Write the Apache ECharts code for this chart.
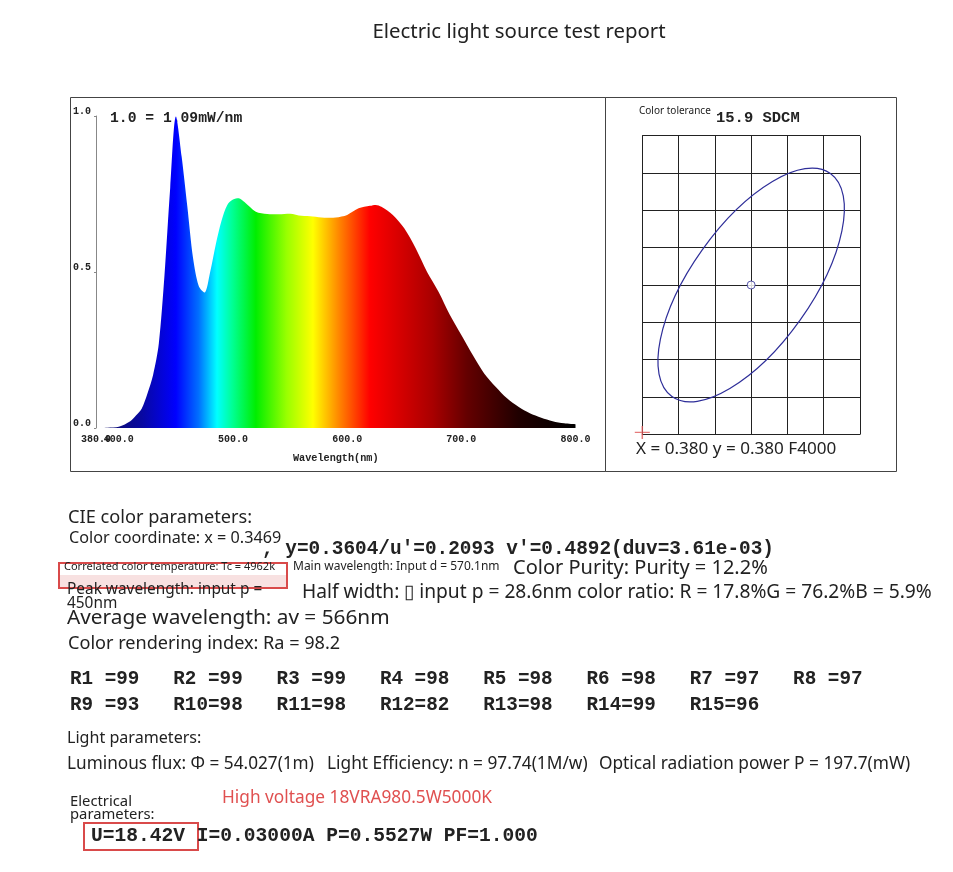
<!DOCTYPE html>
<html>
<head>
<meta charset="utf-8">
<title>Electric light source test report</title>
<script src="https://cdn.jsdelivr.net/npm/echarts@6.0.0/dist/echarts.min.js"></script>
<style>
  html, body { margin: 0; padding: 0; background: #fff; }
  #main { width: 953px; height: 872px; }
</style>
</head>
<body>
<div id="main"></div>
<script>
// spectrum (relative, 1.0 = 1.09mW/nm)
var wavelengths = [380, 390, 400, 410, 415, 420, 425, 430, 435, 440, 445, 450, 455, 460, 465, 470, 475, 480, 485, 490,
  495, 500, 505, 510, 520, 530, 540, 550, 560, 570, 580, 590, 600, 610, 620, 625, 630, 640, 650, 660,
  670, 680, 690, 700, 710, 720, 730, 740, 750, 760, 770, 780, 790, 800];
var intensity = [0, 0.001, 0.004, 0.022, 0.04, 0.062, 0.11, 0.17, 0.27, 0.49, 0.77, 0.998, 0.87, 0.71, 0.545, 0.455, 0.434, 0.50, 0.59, 0.665,
  0.715, 0.732, 0.736, 0.724, 0.693, 0.686, 0.685, 0.687, 0.68, 0.678, 0.674, 0.675, 0.683, 0.704, 0.712, 0.715, 0.709, 0.683, 0.64, 0.576,
  0.50, 0.437, 0.362, 0.298, 0.234, 0.175, 0.132, 0.095, 0.068, 0.047, 0.033, 0.022, 0.015, 0.012];
var xTicks = [400, 500, 600, 700, 800];
var xStartTick = [380];
var yTicks = [0, 0.5, 1.0];

// colour tolerance plot: ellipse [cx, cy, semi-major, semi-minor (in cell widths), angle deg]
var ellipse = [[3, 4, 3.77, 1.66, 54.6]];
var centerPoint = [[3, 4]];
var refCross = [[0, 0.05]];

// colour rendering indices
var rNames = ['R1', 'R2', 'R3', 'R4', 'R5', 'R6', 'R7', 'R8', 'R9', 'R10', 'R11', 'R12', 'R13', 'R14', 'R15'];
var rValues = [99, 99, 99, 98, 98, 98, 97, 97, 93, 98, 98, 82, 98, 99, 96];

// spectrum colour ramp
var rainbow = [
  [380, '#101060'], [420, '#0808a0'], [450, '#0000ff'], [470, '#0070ff'], [486, '#00ffff'],
  [500, '#00ff90'], [520, '#00ee00'], [547, '#99ff00'], [570, '#ffff00'], [594, '#ff8000'],
  [620, '#ff0000'], [675, '#a80000'], [705, '#640000'], [750, '#200000'], [800, '#000000']
];

var chart = echarts.init(document.getElementById('main'));

var specData = wavelengths.map(function (w, i) { return [w, intensity[i]]; });
var stops = rainbow.map(function (s) { return { offset: (s[0] - 380) / 420, color: s[1] }; });

var SANS = '"Noto Sans", sans-serif';
var MONO = '"Liberation Mono", "Courier New", monospace';

function txt(text, x, y, font, color, align) {
  return {
    type: 'text', silent: true,
    style: {
      text: text, x: x, y: y, font: font, fill: color || '#222',
      align: align || 'left', verticalAlign: 'middle',
      textAlign: align || 'left', textVerticalAlign: 'middle'
    }
  };
}

var graphics = [
  // panel frames
  { type: 'rect', shape: { x: 70.5, y: 97.5, width: 535, height: 374 }, style: { fill: 'none', stroke: '#444', lineWidth: 1 } },
  { type: 'rect', shape: { x: 605.5, y: 97.5, width: 291, height: 374 }, style: { fill: 'none', stroke: '#444', lineWidth: 1 } },
  // red marker boxes
  { type: 'rect', shape: { x: 60, y: 575, width: 226, height: 12 }, style: { fill: 'rgba(225,120,120,0.22)' } },
  { type: 'rect', shape: { x: 59, y: 563, width: 228, height: 25 }, style: { fill: 'none', stroke: '#d94a4a', lineWidth: 2 } },
  { type: 'rect', shape: { x: 84, y: 823, width: 114, height: 27 }, style: { fill: 'none', stroke: '#d94a4a', lineWidth: 2 } },

  txt('Electric light source test report', 519, 32, '20.4px ' + SANS, '#222', 'center'),
  txt('1.0 = 1.09mW/nm', 110, 118, 'bold 14.7px ' + MONO, '#222'),
  txt('Color tolerance', 639, 111, '10px ' + SANS, '#222'),
  txt('15.9 SDCM', 716, 118, 'bold 15.5px ' + MONO, '#222'),
  txt('X = 0.380 y = 0.380 F4000', 636, 449, '17.1px ' + SANS, '#222'),

  txt('CIE color parameters:', 68, 518, '18.2px ' + SANS),
  txt('Color coordinate: x = 0.3469', 69, 538, '16.2px ' + SANS),
  txt(", y=0.3604/u'=0.2093 v'=0.4892(duv=3.61e-03)", 262, 549, 'bold 19.4px ' + MONO),
  txt('Correlated color temperature: Tc = 4962k', 64, 567, '11px ' + SANS),
  txt('Main wavelength: Input d = 570.1nm', 293, 567, '12px ' + SANS),
  txt('Color Purity: Purity = 12.2%', 513, 568, '20px ' + SANS),
  txt('Peak wavelength: input p =', 67, 590, '15.4px ' + SANS),
  txt('450nm', 67, 604, '15.4px ' + SANS),
  txt('Half width: \u25AF input p = 28.6nm color ratio: R = 17.8%G = 76.2%B = 5.9%', 302, 593, '19.2px ' + SANS),
  txt('Average wavelength: av = 566nm', 67, 618, '20.8px ' + SANS),
  txt('Color rendering index: Ra = 98.2', 68, 644, '18.1px ' + SANS),

  txt('Light parameters:', 67, 738, '16.1px ' + SANS),
  txt('Luminous flux: \u03A6 = 54.027(1m)', 67, 764, '17.2px ' + SANS),
  txt('Light Efficiency: n = 97.74(1M/w)', 327, 764, '17.3px ' + SANS),
  txt('Optical radiation power P = 197.7(mW)', 599, 764, '17.3px ' + SANS),
  txt('Electrical', 70, 802, '14.8px ' + SANS),
  txt('parameters:', 70, 815, '14.8px ' + SANS),
  txt('High voltage 18VRA980.5W5000K', 222, 798, '17.3px ' + SANS, '#e05050'),
  txt('U=18.42V I=0.03000A P=0.5527W PF=1.000', 91, 836, 'bold 19.6px ' + MONO)
];

// R1..R15 grid, 8 per row
rNames.forEach(function (n, i) {
  var label = (n + '  ').slice(0, 3) + '=' + rValues[i];
  graphics.push(txt(label, 70 + (i % 8) * 103.3, 679 + Math.floor(i / 8) * 26.5, 'bold 19.3px ' + MONO));
});

var tickLabel = {
  margin: 6, hideOverlap: false, showMinLabel: true, showMaxLabel: true,
  fontFamily: MONO, fontWeight: 'bold', fontSize: 10, color: '#222',
  formatter: function (v) { return v.toFixed(1); }
};

var option = {
  animation: false,
  backgroundColor: '#fff',
  graphic: { elements: graphics },
  grid: [
    { left: 96, top: 116, width: 479.5, height: 312 },
    { left: 642.3, top: 135.7, width: 217.7, height: 298.6 }
  ],
  xAxis: [
    {
      gridIndex: 0, type: 'value', min: 380, max: 800,
      name: 'Wavelength(nm)', nameLocation: 'middle', nameGap: 25,
      nameTextStyle: { color: '#222', fontFamily: MONO, fontWeight: 'bold', fontSize: 10.2 },
      axisLine: { show: false }, axisTick: { show: false }, splitLine: { show: false },
      axisLabel: Object.assign({ customValues: xTicks }, tickLabel)
    },
    {
      gridIndex: 1, type: 'value', min: 0, max: 6, interval: 1,
      axisLine: { show: true, lineStyle: { color: '#222', width: 1 } },
      axisTick: { show: false }, axisLabel: { show: false },
      splitLine: { show: true, lineStyle: { color: '#222', width: 1 } }
    },
    {
      // separate axis so the 380.0 label is not dropped where it overlaps 400.0
      gridIndex: 0, type: 'value', min: 380, max: 800, position: 'bottom',
      axisLine: { show: false }, axisTick: { show: false }, splitLine: { show: false },
      axisLabel: Object.assign({ customValues: xStartTick }, tickLabel)
    }
  ],
  yAxis: [
    {
      gridIndex: 0, type: 'value', min: 0, max: 1,
      axisLine: { show: true, lineStyle: { color: '#888', width: 1 } },
      axisTick: { show: true, customValues: yTicks, length: 2, lineStyle: { color: '#888' } },
      splitLine: { show: false },
      axisLabel: {
        customValues: yTicks, margin: 23, align: 'left', verticalAlign: 'bottom',
        fontFamily: MONO, fontWeight: 'bold', fontSize: 10, color: '#222',
        formatter: function (v) { return v.toFixed(1); }
      }
    },
    {
      gridIndex: 1, type: 'value', min: 0, max: 8, interval: 1,
      axisLine: { show: true, lineStyle: { color: '#222', width: 1 } },
      axisTick: { show: false }, axisLabel: { show: false },
      splitLine: { show: true, lineStyle: { color: '#222', width: 1 } }
    }
  ],
  series: [
    {
      type: 'line', xAxisIndex: 0, yAxisIndex: 0, data: specData,
      smooth: 0.3, showSymbol: false, silent: true,
      lineStyle: { width: 0 },
      areaStyle: { opacity: 1, color: new echarts.graphic.LinearGradient(0, 0, 1, 0, stops) }
    },
    {
      type: 'custom', xAxisIndex: 1, yAxisIndex: 1, data: ellipse, silent: true,
      renderItem: function (params, api) {
        var c = api.coord([api.value(0), api.value(1)]);
        var unit = api.size([1, 1])[0];
        return {
          type: 'ellipse',
          x: c[0], y: c[1],
          rotation: api.value(4) * Math.PI / 180,
          shape: { cx: 0, cy: 0, rx: api.value(2) * unit, ry: api.value(3) * unit },
          style: { fill: 'none', stroke: '#2e2e99', lineWidth: 1.2 }
        };
      }
    },
    {
      type: 'scatter', xAxisIndex: 1, yAxisIndex: 1, data: centerPoint, silent: true,
      symbol: 'circle', symbolSize: 8,
      itemStyle: { color: '#fff', borderColor: '#2e2e99', borderWidth: 1 }
    },
    {
      type: 'scatter', xAxisIndex: 1, yAxisIndex: 1, data: refCross, silent: true,
      symbol: 'path://M0,4.5H10V5.5H0Z M4.5,0H5.5V10H4.5Z', symbolSize: [15, 13],
      itemStyle: { color: '#e05a5a' }
    }
  ]
};

chart.setOption(option);
window.onresize = chart.resize;
</script>
</body>
</html>
